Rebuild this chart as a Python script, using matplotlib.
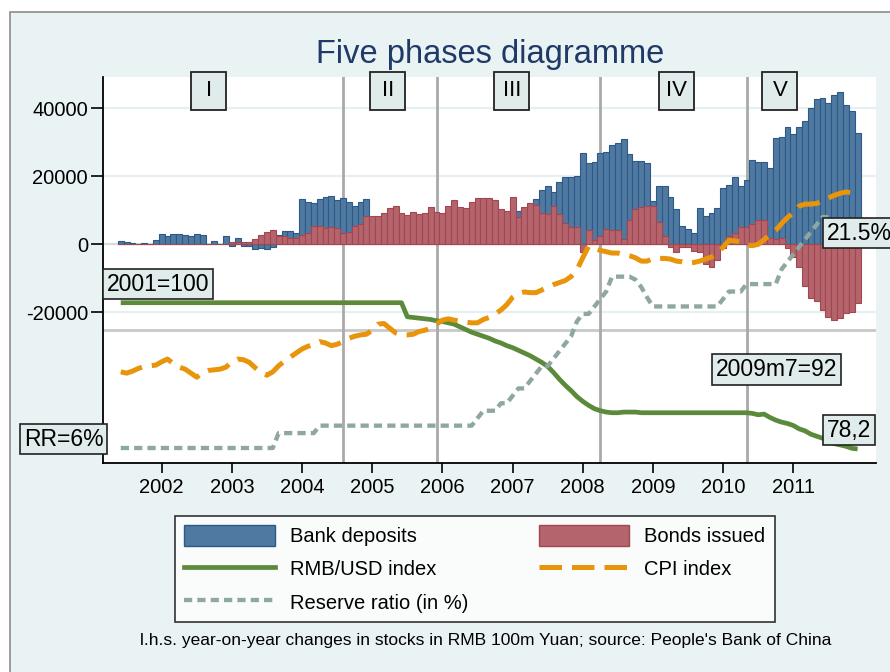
import numpy as np
import matplotlib
matplotlib.use("Agg")
import matplotlib.pyplot as plt
from matplotlib.patches import Patch, Rectangle
from matplotlib.lines import Line2D
from matplotlib.transforms import blended_transform_factory

plt.rcParams["font.family"] = ["Liberation Sans", "DejaVu Sans"]

# monthly data, 2001m6 .. 2011m12 (year-on-year changes, RMB 100m)
deposits = [1100, 800, 500, 0, 300, 0, 1300, 3000, 2300, 3000, 3000, 2700, 2500, 3000, 2600, 0,
            1000, 0, 2500, -600, 1800, -400, -500, -1300, -1200, -1400, -800, 2800, 3900, 3900,
            3300, 13300, 12400, 12100, 13300, 13800, 14300, 13000, 13600, 12500, 11300, 12400,
            13400, 7000, 7500, 8000, 8500, 9000, 8000, 7500, 8000, 7800, 8200, 9000, 8500, 8000,
            9500, 10500, 9500, 9000, 10000, 11000, 11500, 11000, 10000, 9000, 9500, 9000, 9900,
            9500, 11000, 13300, 16000, 17000, 15500, 18200, 19700, 19700, 20200, 26800, 23800,
            24100, 27000, 27200, 29200, 29700, 30900, 26600, 24500, 24500, 24000, 12700, 17200,
            17000, 14000, 10400, 5400, 4400, 3200, 10800, 8400, 9300, 10600, 16500, 17400, 19700,
            17000, 18900, 24800, 24300, 24300, 22300, 31200, 31700, 34400, 32300, 34400, 36400,
            40000, 42700, 42900, 41500, 43900, 44900, 41000, 39300, 32600]
bonds = [0] * 19 + [800, 800, 600, 600, 1600, 2700, 3500, 4300, 2500, 2300, 1900, 1800, 2600,
         3200, 5500, 5500, 4900, 5200, 4800, 3200, 3500, 5300, 5900, 8400, 8400, 8400, 9100,
         10800, 11400, 9100, 8700, 9400, 8800, 9100, 11000, 9400, 9100, 11400, 13000, 11000,
         10800, 12400, 13700, 13600, 13700, 13000, 10400, 9800, 14000, 8100, 11000, 12000,
         11700, 9100, 8900, 11400, 8800, 6200, 5200, 5000, -2200, 4200, 1300, 2500, 4500, 4200,
         4200, 1600, 7200, 10400, 11100, 11400, 11400, 6500, 2500, -700, -2400, -700, -900,
         -2000, -2400, -5800, -6800, -4600, -1000, 2300, 3200, 5100, 5000, 5900, 7200, 7000,
         1800, 1600, 1800, -1200, -3600, -6600, -12400, -15900, -16600, -19300, -21300, -22200,
         -21600, -20100, -19800, -17300]
# RMB/USD index, 2001=100
rmb_usd = [100.0] * 49 + [97.9, 97.8, 97.7, 97.6, 97.5, 97.3, 97.2, 97.0, 96.8, 96.4, 96.0,
           95.6, 95.3, 95.0, 94.7, 94.3, 94.0, 93.6, 93.3, 92.9, 92.5, 92.1, 91.6, 91.1, 90.5,
           89.6, 88.6, 87.7, 86.9, 86.0, 85.3, 84.7, 84.2, 83.9, 83.7, 83.6, 83.6, 83.7, 83.7,
           83.7] + [83.6] * 19 + [83.5, 83.3, 83.4, 82.9, 82.5, 82.2, 82.0, 81.7, 81.2, 80.9,
           80.4, 80.1, 79.8, 79.4, 79.0, 78.8, 78.6, 78.3, 78.2]
cpi = [89.7, 89.5, 89.8, 90.2, 90.5, 90.6, 90.7, 91.2, 91.6, 90.9, 90.4, 90.1, 89.5, 88.9, 89.6,
       89.9, 90.0, 90.1, 90.4, 91.2, 91.6, 91.5, 91.1, 90.3, 89.6, 89.2, 89.7, 90.6, 91.3, 91.9,
       92.5, 93.1, 93.5, 93.8, 94.2, 94.0, 93.6, 93.8, 94.2, 94.7, 95.0, 95.2, 95.3, 95.9, 96.8,
       96.9, 96.2, 95.5, 95.2, 95.2, 95.3, 95.7, 95.9, 96.2, 96.8, 97.4, 97.6, 97.4, 97.3, 97.1,
       97.0, 97.0, 97.5, 97.8, 98.3, 98.9, 99.7, 100.8, 101.4, 101.6, 101.5, 101.5, 101.9,
       102.3, 102.7, 103.0, 103.3, 103.9, 104.9, 106.7, 108.4, 108.1, 107.8, 107.6, 107.4,
       107.4, 107.2, 107.0, 106.7, 106.2, 106.2, 106.6, 106.6, 106.6, 106.5, 106.2, 106.1,
       105.9, 106.0, 106.2, 106.5, 106.8, 107.3, 108.3, 109.3, 109.2, 109.1, 108.6, 108.5,
       108.7, 109.4, 110.1, 110.8, 111.8, 112.7, 113.4, 114.4, 114.7, 114.7, 114.8, 115.2,
       115.6, 116.0, 116.3, 116.5, 116.4, 116.4]
# reserve requirement ratio, %  (2001m6 .. 2011m7)
reserve = [6.0] * 27 + [7.0] * 7 + [7.5] * 27 + [8.0, 8.5, 8.5, 8.5, 9.0, 9.0, 9.5, 10.0, 10.0,
           10.5, 11.0, 11.5, 11.5, 12.0, 12.5, 13.0, 13.5, 14.5, 15.0, 15.0, 15.5, 16.0, 16.5,
           17.5, 17.5, 17.5, 17.5, 17.3, 16.8, 16.1] + [15.5] * 12 + [16.0, 16.5, 16.5, 16.5,
           17.0] + [17.0] * 5 + [18.0, 18.5, 19.0, 19.5, 20.0, 20.5, 21.0, 21.5, 21.5]

years = list(range(2002, 2012))
phase_breaks = [2004 + 7 / 12, 2005 + 11 / 12, 2008 + 3 / 12, 2010 + 4 / 12]
phase_names = ["I", "II", "III", "IV", "V"]
phase_label_x = [2002.67, 2005.22, 2006.99, 2009.34, 2010.81]

t = 2001 + (5 + np.arange(len(deposits))) / 12
t_res = t[:len(reserve)]

BLUE, BLUE_E = "#4f79a0", "#2b5a88"
RED, RED_E = "#b4646c", "#a3464f"
GREEN, ORANGE, GREY = "#5c8a3b", "#e8950c", "#8ea79f"
BOXFC = "#e0ebeb"

W, H = 890, 672
fig = plt.figure(figsize=(W / 100, H / 100), dpi=100, facecolor="white")
fig.patches.append(Rectangle((10 / W, -0.01), 1.0, 1 - 12 / H + 0.01, transform=fig.transFigure,
                             facecolor="#eaf3f4", edgecolor="#8c8c8c", lw=1.2, zorder=-10))

ax = fig.add_axes([103.3 / W, 1 - 463 / H, 772.4 / W, 386 / H])
ax.set_facecolor("white")
ax.set_xlim(2001.168, 2012.174)
ax.set_ylim(-64324, 49206)

for v in [-20000, 20000, 40000]:
    ax.axhline(v, color="#e6f0f1", lw=1.6, zorder=0)
ax.axhline(0, color="#d6dcdc", lw=1.6, zorder=0)
ax.axhline(-25200, color="#c8c8c8", lw=2, zorder=0)
for xb in phase_breaks:
    ax.axvline(xb, color="#a9a9a9", lw=2, zorder=0.5)

ax.bar(t, deposits, width=1 / 12, color=BLUE, edgecolor=BLUE_E, lw=0.8, zorder=1)
ax.bar(t, bonds, width=1 / 12, color=RED, edgecolor=RED_E, lw=0.8, zorder=2)

ax.set_xticks(years)
ax.set_xticklabels([str(y) for y in years], fontsize=14.5)
ax.set_yticks([-20000, 0, 20000, 40000])
ax.set_yticklabels(["-20000", "0", "20000", "40000"], fontsize=14.5)
ax.tick_params(axis="x", length=7, width=1.2, pad=4)
ax.tick_params(axis="y", length=9, width=1.2, pad=2)
for s in ["top", "right"]:
    ax.spines[s].set_visible(False)
for s in ["left", "bottom"]:
    ax.spines[s].set_linewidth(1.3)

ax2 = ax.twinx()
ax2.set_ylim(76.11, 133.64)
ax3 = ax.twinx()
ax3.set_ylim(4.993, 30.9)
for a in (ax2, ax3):
    a.set_yticks([])
    for s in a.spines.values():
        s.set_visible(False)
    a.patch.set_visible(False)

ax3.plot(t_res, reserve, color=GREY, lw=3.1, dashes=(1.9, 1.2), dash_capstyle="butt", zorder=3)
ax2.plot(t, rmb_usd, color=GREEN, lw=3.4, solid_capstyle="butt", zorder=4)
ax2.plot(t, cpi, color=ORANGE, lw=3.6, dashes=(4.5, 2.0), dash_capstyle="butt", zorder=5)

# phase labels above the plot
tr = blended_transform_factory(ax.transData, fig.transFigure)
bw = 35 / 70.18
for name, xc in zip(phase_names, phase_label_x):
    fig.patches.append(Rectangle((xc - bw / 2, 1 - 109.5 / H), bw, 37 / H, transform=tr,
                                 facecolor=BOXFC, edgecolor="#222222", lw=1.3, zorder=5))
    fig.text(xc, 1 - 91 / H, name, transform=tr, ha="center", va="center", fontsize=16, zorder=6)


def label(x, y, s):
    fig.text(x / W, 1 - y / H, s, ha="left", va="center", fontsize=16.5, zorder=10,
             bbox=dict(boxstyle="square,pad=0.16", facecolor=BOXFC, edgecolor="#222222", lw=1.2))


label(107, 284, "2001=100")
label(24, 439, "RR=6%")
label(716, 369.5, "2009m7=92")
label(827, 430, "78,2")
label(827, 233, "21.5%")

fig.text(490 / W, 1 - 54 / H, "Five phases diagramme", ha="center", va="center",
         fontsize=23.5, color="#1f3a68")

handles = [Patch(facecolor=BLUE, edgecolor=BLUE_E),
           Line2D([], [], color=GREEN, lw=3.4),
           Line2D([], [], color=GREY, lw=3.1, dashes=(1.9, 1.2), dash_capstyle="butt"),
           Patch(facecolor=RED, edgecolor=RED_E),
           Line2D([], [], color=ORANGE, lw=3.6, dashes=(4.5, 2.0), dash_capstyle="butt")]
labels = ["Bank deposits", "RMB/USD index", "Reserve ratio (in %)", "Bonds issued", "CPI index"]
leg = fig.legend(handles, labels, loc="upper left", bbox_to_anchor=(175 / W, 1 - 516 / H),
                 ncol=2, fontsize=14.5, frameon=True, fancybox=False, edgecolor="black",
                 handlelength=4.5, handleheight=1.2, handletextpad=0.75, columnspacing=3.5,
                 labelspacing=0.6, borderpad=0.45, borderaxespad=0)
leg.get_frame().set_linewidth(1.2)

fig.text(486 / W, 1 - 640 / H,
         "l.h.s. year-on-year changes in stocks in RMB 100m Yuan; source: People's Bank of China",
         ha="center", va="center", fontsize=12.5)

fig.savefig("out.png", dpi=100, facecolor="white")
